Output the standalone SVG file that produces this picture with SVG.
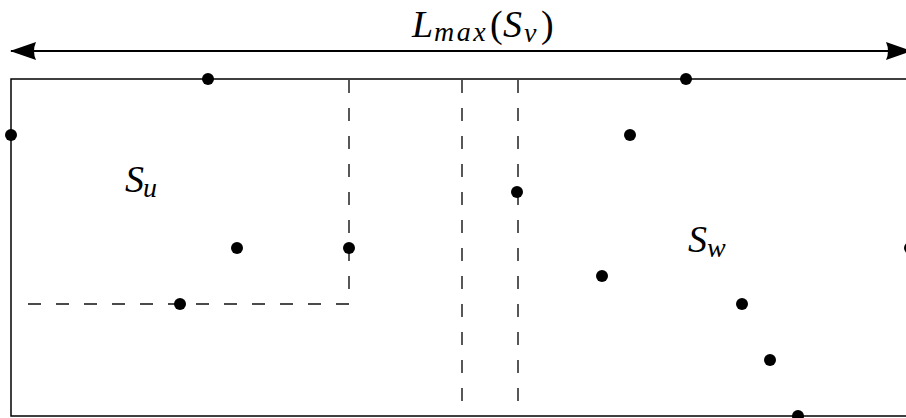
<svg xmlns="http://www.w3.org/2000/svg" width="906" height="418" viewBox="0 0 906 418">
<style>
.frame{fill:none;stroke:#000;stroke-width:1.5}
.dash{fill:none;stroke:#111;stroke-width:1.4;stroke-dasharray:13 15}
.pt{fill:#000}
.math{font-family:"Liberation Serif","DejaVu Serif",serif;font-size:38px;fill:#000}
.it{font-style:italic}
.sub{font-style:italic;font-size:28px}
</style>
<defs>
<marker id="ah" viewBox="0 0 26 20" refX="25" refY="10" markerWidth="26" markerHeight="20" markerUnits="userSpaceOnUse" orient="auto-start-reverse">
<path d="M0,1 Q4,10 0,19 L26,10 Z" fill="#000"/>
</marker>
</defs>
<rect id="frame" class="frame" x="11" y="79" width="1000" height="337"/>
<g id="connectors">
<line x1="11" y1="51" x2="911" y2="51" stroke="#000" stroke-width="2" marker-start="url(#ah)" marker-end="url(#ah)"/>
<path class="dash" d="M349,80 V304 H25"/>
<path class="dash" d="M462,80 V416"/>
<path class="dash" d="M518,80 V416"/>
</g>
<g id="points">
<circle class="pt" cx="208" cy="79" r="6"/>
<circle class="pt" cx="11" cy="135" r="6"/>
<circle class="pt" cx="237" cy="248" r="6"/>
<circle class="pt" cx="349" cy="248" r="6"/>
<circle class="pt" cx="180" cy="304" r="6"/>
<circle class="pt" cx="517" cy="192" r="6"/>
<circle class="pt" cx="686" cy="79" r="6"/>
<circle class="pt" cx="630" cy="135" r="6"/>
<circle class="pt" cx="602" cy="276" r="6"/>
<circle class="pt" cx="742" cy="304" r="6"/>
<circle class="pt" cx="770" cy="360" r="6"/>
<circle class="pt" cx="798" cy="416" r="6"/>
<circle class="pt" cx="910" cy="248" r="6"/>
</g>
<g id="label-Lmax">
<text class="math" y="37"><tspan class="it" x="412">L</tspan><tspan class="sub" x="434" dy="4" letter-spacing="2.5">max</tspan><tspan x="490" dy="-4">(</tspan><tspan class="it" x="503">S</tspan><tspan class="sub" x="524" dy="5">v</tspan><tspan x="541" dy="-5">)</tspan></text>
</g>
<g id="label-Su">
<text class="math" y="192"><tspan class="it" x="125">S</tspan><tspan class="sub" x="143" dy="5">u</tspan></text>
</g>
<g id="label-Sw">
<text class="math" y="252"><tspan class="it" x="688">S</tspan><tspan class="sub" x="707" dy="5">w</tspan></text>
</g>
</svg>
